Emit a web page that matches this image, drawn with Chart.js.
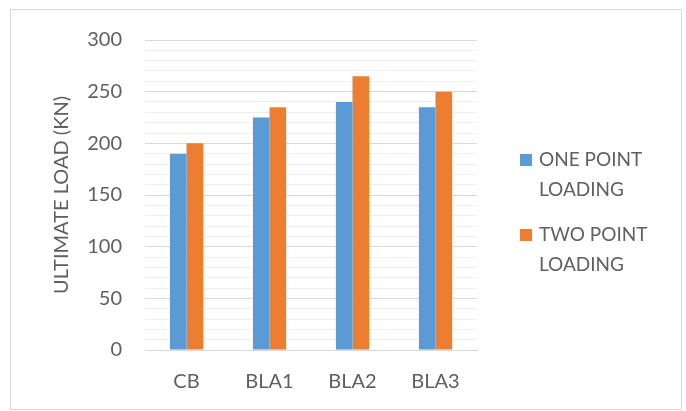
<!DOCTYPE html>
<html>
<head>
<meta charset="utf-8">
<script src="https://cdn.jsdelivr.net/npm/chart.js@4"></script>
<style>
  body { margin: 0; background: #fff; }
  #box { position: absolute; left: 10px; top: 9px; width: 670px; height: 399px; border: 1px solid #d9d9d9; }
</style>
</head>
<body>
<div id="box"><canvas id="chart" width="670" height="399"></canvas></div>
<script>
const categories = ['CB', 'BLA1', 'BLA2', 'BLA3'];
const onePoint = [190, 225, 240, 235];
const twoPoint = [200, 235, 265, 250];
const seriesNames = [['ONE POINT', 'LOADING'], ['TWO POINT', 'LOADING']];

const textColor = '#606060';
const fontFamily = 'Lato, "Open Sans", sans-serif';

// legend drawn to the right of the plot, labels wrap onto two lines
const sideLegend = {
    id: 'sideLegend',
    afterDraw(chart) {
        const ctx = chart.ctx;
        const x = chart.chartArea.right + 43;
        let y = 150;
        ctx.save();
        ctx.font = '19px ' + fontFamily;
        ctx.textBaseline = 'middle';
        chart.data.datasets.forEach((ds, i) => {
            ctx.fillStyle = ds.backgroundColor;
            ctx.fillRect(x, y - 6, 12, 12);
            ctx.fillStyle = textColor;
            seriesNames[i].forEach((line, j) => {
                ctx.fillText(line, x + 19, y + j * 30);
            });
            y += 75;
        });
        ctx.restore();
    }
};

new Chart(document.getElementById('chart'), {
    type: 'bar',
    data: {
        labels: categories,
        datasets: [{
            label: seriesNames[0].join(' '),
            data: onePoint,
            backgroundColor: '#5B9BD5'
        }, {
            label: seriesNames[1].join(' '),
            data: twoPoint,
            backgroundColor: '#ED7D31'
        }]
    },
    options: {
        responsive: false,
        animation: false,
        categoryPercentage: 0.4,
        barPercentage: 1,
        layout: { padding: { top: 30, right: 204, bottom: 15, left: 35 } },
        plugins: {
            legend: { display: false },
            tooltip: { enabled: false }
        },
        scales: {
            x: {
                grid: { display: false, drawTicks: false },
                border: { color: '#d9d9d9' },
                ticks: { color: textColor, font: { family: fontFamily, size: 20 }, padding: 20 },
                afterFit: s => { s.height = 44; }
            },
            y: {
                min: 0,
                max: 300,
                border: { display: false },
                grid: {
                    drawTicks: false,
                    color: c => (c.tick && c.tick.value % 50 === 0) ? '#d9d9d9' : '#eeeeee'
                },
                ticks: {
                    stepSize: 10,
                    autoSkip: false,
                    color: textColor,
                    padding: 23,
                    font: { family: fontFamily, size: 20 },
                    callback: v => v % 50 === 0 ? v : ''
                },
                title: {
                    display: true,
                    text: 'ULTIMATE LOAD (KN)',
                    color: textColor,
                    padding: { top: 4, bottom: 13 },
                    font: { family: fontFamily, size: 20 }
                },
                afterFit: s => { s.width = 99; s.paddingTop = 0; s.paddingBottom = 0; }
            }
        }
    },
    plugins: [sideLegend]
});
</script>
</body>
</html>
